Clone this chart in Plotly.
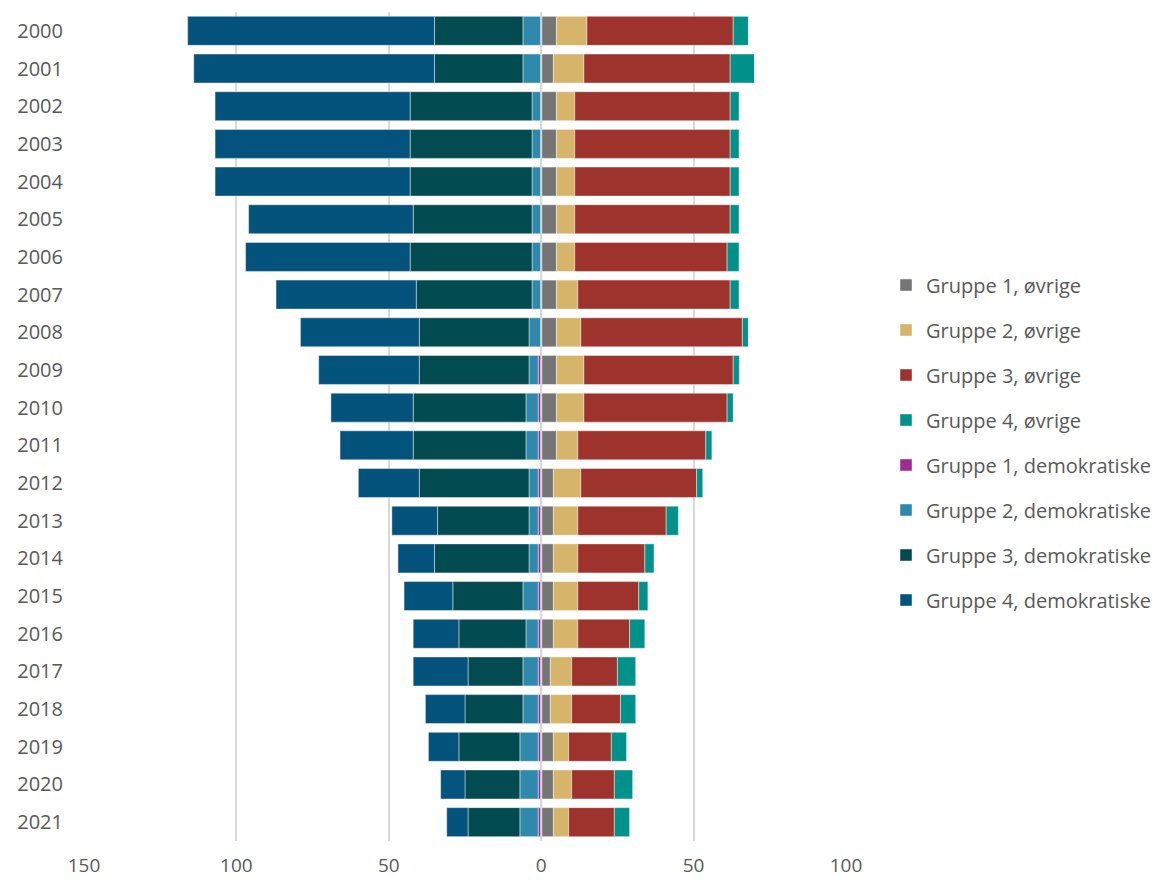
import plotly.graph_objects as go

years = [str(y) for y in range(2000, 2022)]

# Right side (øvrige)
g1_ovr = [5, 4, 5, 5, 5, 5, 5, 5, 5, 5, 5, 5, 4, 4, 4, 4, 4, 3, 3, 4, 4, 4]
g2_ovr = [10, 10, 6, 6, 6, 6, 6, 7, 8, 9, 9, 7, 9, 8, 8, 8, 8, 7, 7, 5, 6, 5]
g3_ovr = [48, 48, 51, 51, 51, 51, 50, 50, 53, 49, 47, 42, 38, 29, 22, 20, 17, 15, 16, 14, 14, 15]
g4_ovr = [5, 8, 3, 3, 3, 3, 4, 3, 2, 2, 2, 2, 2, 4, 3, 3, 5, 6, 5, 5, 6, 5]

# Left side (demokratiske), plotted as negative values
g1_dem = [0, 0, 0, 0, 0, 0, 0, 0, 0, 1, 1, 1, 1, 1, 1, 1, 1, 1, 1, 1, 1, 1]
g2_dem = [6, 6, 3, 3, 3, 3, 3, 3, 4, 3, 4, 4, 3, 3, 3, 5, 4, 5, 5, 6, 6, 6]
g3_dem = [29, 29, 40, 40, 40, 39, 40, 38, 36, 36, 37, 37, 36, 30, 31, 23, 22, 18, 19, 20, 18, 17]
g4_dem = [81, 79, 64, 64, 64, 54, 54, 46, 39, 33, 27, 24, 20, 15, 12, 16, 15, 18, 13, 10, 8, 7]

tick_vals = [-150, -100, -50, 0, 50, 100]
tick_text = ["150", "100", "50", "0", "50", "100"]

series = [
    ("Gruppe 1, øvrige", g1_ovr, 1, "#757575"),
    ("Gruppe 2, øvrige", g2_ovr, 1, "#D6B46A"),
    ("Gruppe 3, øvrige", g3_ovr, 1, "#9E322C"),
    ("Gruppe 4, øvrige", g4_ovr, 1, "#00928A"),
    ("Gruppe 1, demokratiske", g1_dem, -1, "#A02B93"),
    ("Gruppe 2, demokratiske", g2_dem, -1, "#2E89AD"),
    ("Gruppe 3, demokratiske", g3_dem, -1, "#024B51"),
    ("Gruppe 4, demokratiske", g4_dem, -1, "#03537D"),
]

fig = go.Figure()
for name, vals, sign, color in series:
    fig.add_trace(go.Bar(
        y=years, x=[sign * v for v in vals], name=name, orientation="h",
        marker=dict(color=color, line=dict(color="rgba(255,255,255,0.55)", width=0.8)),
        legendgroup=name,
    ))

FONT = "Open Sans"
fig.update_layout(
    barmode="relative",
    bargap=0.23,
    width=1156, height=880,
    margin=dict(l=84, r=310, t=12, b=39, autoexpand=False),
    paper_bgcolor="white", plot_bgcolor="white",
    font=dict(family=FONT, size=20, color="#595959"),
    xaxis=dict(
        range=[-150, 100], tickvals=tick_vals, ticktext=tick_text,
        showgrid=True, gridcolor="#D9D9D9", gridwidth=2,
        zeroline=False, showline=False, automargin=False,
        ticks="outside", ticklen=0, ticklabelstandoff=7,
        tickfont=dict(size=19, color="#595959"),
    ),
    yaxis=dict(
        autorange="reversed", type="category", automargin=False,
        showgrid=False, zeroline=False, showline=False,
        ticks="outside", ticklen=0, ticklabelstandoff=16,
        tickfont=dict(size=20, color="#595959"),
    ),
    legend=dict(
        xref="container", yref="container",
        x=886 / 1156, xanchor="left", y=1 - 442.5 / 880, yanchor="middle",
        traceorder="grouped", tracegroupgap=16,
        font=dict(size=20, color="#595959"),
        bgcolor="rgba(0,0,0,0)",
    ),
    shapes=[dict(type="line", xref="x", yref="paper", x0=0, x1=0, y0=0, y1=1,
                 line=dict(color="#D9D9D9", width=2), layer="above")],
    showlegend=True,
)

fig.write_html("out.html")
